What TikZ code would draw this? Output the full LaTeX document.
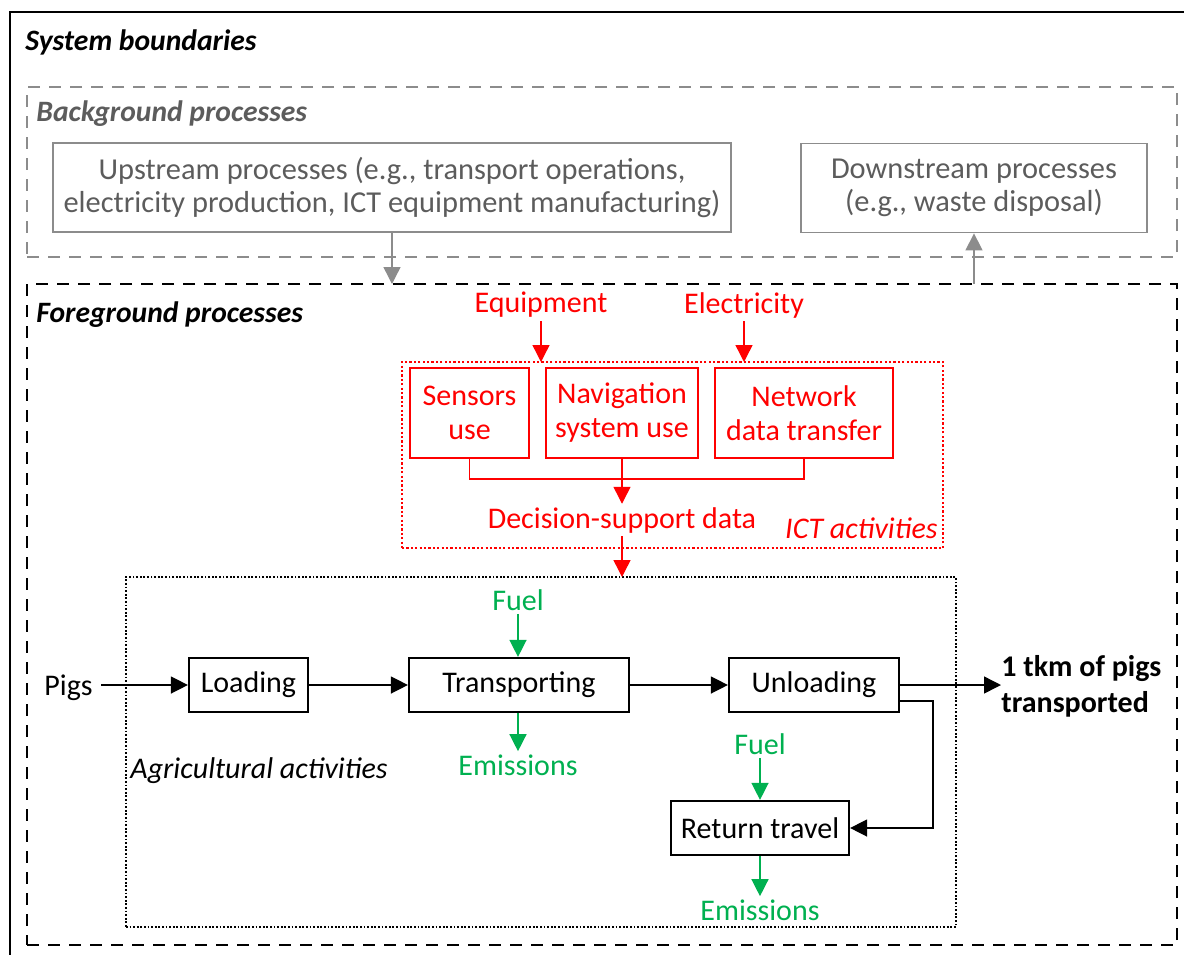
\documentclass[tikz,border=0pt]{standalone}
\usepackage{fontspec}
\setmainfont{Carlito}
\usetikzlibrary{arrows.meta}
\definecolor{ictred}{RGB}{255,0,0}
\definecolor{fuelgreen}{RGB}{0,176,80}
\definecolor{bgtext}{RGB}{92,92,92}
\definecolor{bgline}{RGB}{140,140,140}
\begin{document}
\begin{tikzpicture}[x=0.5pt,y=-0.5pt,
  font=\fontsize{15}{17}\selectfont,
  tip/.style={-{Triangle[length=8.5pt,width=8.5pt]}},
  flow/.style={tip, line width=0.7pt},
  link/.style={line width=0.7pt},
  proc/.style={draw, line width=1.1pt, minimum height=27pt, inner sep=0pt},
  ictbox/.style={draw=ictred, text=ictred, line width=1.05pt, minimum height=45pt,
    align=center, inner sep=0pt, font=\fontsize{15}{17}\selectfont},
  bgproc/.style={draw=bgline, text=bgtext, line width=0.9pt, align=center,
    inner sep=0pt, minimum height=44.5pt, font=\fontsize{15.2}{16.8}\selectfont},
  lbl/.style={inner sep=1.5pt},
  heading/.style={font=\fontsize{14.8}{17}\selectfont\bfseries\itshape,
    inner sep=0pt, anchor=base west},
  frame/.style={inner sep=0pt, outer sep=0pt},
]
\useasboundingbox (0,0) rectangle (1184,954);

% outermost system boundary (runs off the page to the right and bottom)
\begin{scope}
  \clip (0,0) rectangle (1184,954);
  \draw[line width=1.4pt] (1200,12) -- (10,12) -- (10,970);
\end{scope}
\node[heading] (sysb) at (25,50) {System boundaries};

% background processes
\node[frame, draw=bgline, line width=1.3pt, dash pattern=on 6pt off 4.5pt,
  minimum width=575pt, minimum height=85pt] (bg) at (602,172) {};
\node[heading, text=bgtext] (bgt) at (36,121) {Background processes};
\node[bgproc, minimum width=339pt] (up) at (392,187.5)
  {Upstream processes (e.g., transport operations,\\electricity production, ICT equipment manufacturing)};
\node[bgproc, minimum width=173pt] (down) at (974,188)
  {Downstream processes\\(e.g., waste disposal)};

% foreground processes
\node[frame, draw, line width=1.45pt, dash pattern=on 6pt off 4.5pt,
  minimum width=575pt, minimum height=330.5pt] (fg) at (602,614.5) {};
\node[heading] (fgt) at (36,322) {Foreground processes};

\draw[flow, bgline] (up.south) -- (up.south |- fg.north);
\draw[flow, bgline] (down.south |- fg.north) -- (down.south);

% ICT activities
\node[frame, draw=ictred, line width=1.1pt, dash pattern=on 1.1pt off 1.1pt,
  minimum width=270.5pt, minimum height=93pt] (ict) at (672.5,455) {};
\node[lbl, text=ictred] (equip) at (541,305) {Equipment};
\node[lbl, text=ictred] (elec) at (744,305) {Electricity};
\node[ictbox, minimum width=59.5pt] (sens) at (469.5,413) {Sensors\\use};
\node[ictbox, minimum width=76pt] (nav) at (622,413) {Navigation\\system use};
\node[ictbox, minimum width=89pt] (net) at (804,413) {Network\\data transfer};
\node[lbl, text=ictred] (dsd) at (622,520) {Decision-support data};
\node[text=ictred, inner sep=0pt, anchor=base east, font=\fontsize{15}{17}\selectfont\itshape]
  (ictt) at (938,538) {ICT activities};

\draw[flow, ictred] (equip.south) -- (equip.south |- ict.north);
\draw[flow, ictred] (elec.south) -- (elec.south |- ict.north);
\coordinate (merge) at (622,479);
\draw[link, ictred] (sens.south) |- (merge) -| (net.south);
\draw[flow, ictred] (nav.south) -- (dsd.north);

% agricultural activities
\node[frame, draw, line width=0.9pt, dash pattern=on 0.9pt off 0.9pt,
  minimum width=415pt, minimum height=175pt] (agri) at (541,752) {};
\node[inner sep=0pt, anchor=base west, font=\fontsize{15}{17}\selectfont\itshape]
  (agrit) at (130,778) {Agricultural activities};
\draw[flow, ictred] (dsd.south) -- (dsd.south |- agri.north);

\node[inner sep=4pt, anchor=base west] (pigs) at (36,695) {Pigs};
\node[proc, minimum width=59.5pt] (load) at (248.5,685) {Loading};
\node[proc, minimum width=110pt] (trans) at (519,685) {Transporting};
\node[proc, minimum width=85pt] (unl) at (814,685) {Unloading};
\node[proc, minimum width=89pt] (ret) at (760,828) {Return travel};
\node[inner sep=0pt, anchor=west, align=left, font=\fontsize{15}{18}\selectfont\bfseries]
  (out) at (1001,686) {1 tkm of pigs\\transported};

\node[lbl, text=fuelgreen] (fuel1) at (518,600) {Fuel};
\node[lbl, text=fuelgreen] (emis1) at (518,765) {Emissions};
\node[lbl, text=fuelgreen] (fuel2) at (760,744) {Fuel};
\node[lbl, text=fuelgreen] (emis2) at (760,910) {Emissions};

\draw[flow] (pigs.east |- load.west) -- (load.west);
\draw[flow] (load.east) -- (trans.west);
\draw[flow] (trans.east) -- (unl.west);
\draw[flow] (unl.east) -- (unl.east -| out.west);
\draw[flow] ([yshift=6pt]unl.south east) -- ++(33,0) |- (ret.east);

\draw[flow, fuelgreen] (fuel1.south) -- (fuel1.south |- trans.north);
\draw[flow, fuelgreen] (emis1.north |- trans.south) -- (emis1.north);
\draw[flow, fuelgreen] (fuel2.south) -- (fuel2.south |- ret.north);
\draw[flow, fuelgreen] (emis2.north |- ret.south) -- (emis2.north);
\end{tikzpicture}
\end{document}
